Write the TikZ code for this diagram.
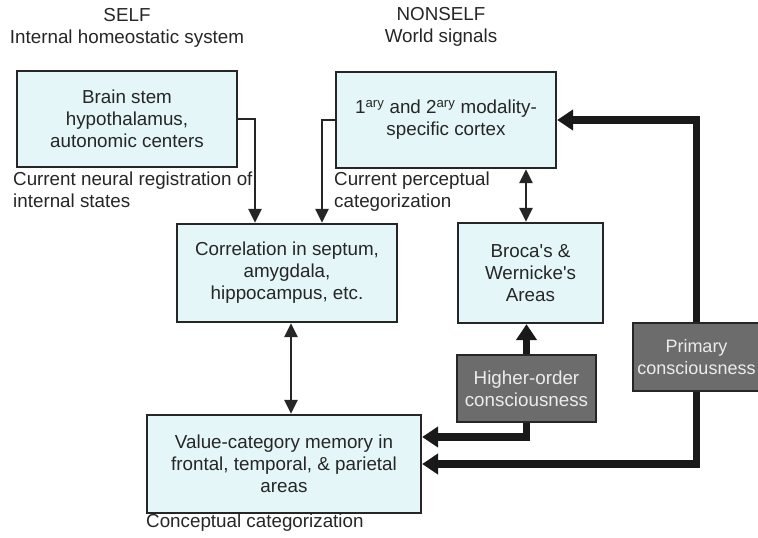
\documentclass[tikz,border=0pt]{standalone}
\usepackage{fontspec}
\setmainfont{Liberation Sans}
\usetikzlibrary{arrows.meta}
\definecolor{boxfill}{RGB}{228,246,248}
\definecolor{darkfill}{RGB}{108,108,108}
\definecolor{ink}{RGB}{38,38,38}
\definecolor{paleink}{RGB}{236,236,236}
\newcommand{\apos}{\textquotesingle}
\begin{document}
\begin{tikzpicture}[x=1pt,y=-1pt,
  every node/.style={font=\fontsize{18.8}{22}\selectfont, text=ink},
  lightbox/.style={draw=ink, line width=2.2pt, fill=boxfill, align=center, inner sep=0pt},
  darkbox/.style={draw=ink, line width=2.2pt, fill=darkfill, align=center, inner sep=0pt, text=paleink},
  caption/.style={align=left, inner sep=0pt, anchor=north west},
  heading/.style={align=center, inner sep=0pt, anchor=north},
  thinarrow/.style={draw=ink, line width=2.6pt, -{Triangle[length=14pt,width=13pt]}},
  thinboth/.style={draw=ink, line width=2.6pt, {Triangle[length=14pt,width=13pt]}-{Triangle[length=14pt,width=13pt]}},
  thickarrow/.style={draw=black!90, line width=7.5pt, -{Triangle[length=16pt,width=20pt]}}]
\useasboundingbox (0,0) rectangle (758,538);
\fill[white] (0,0) rectangle (758,538);

% column headings
\node[heading] (selfhead) at (127,8) {SELF\\Internal homeostatic system};
\node[heading] (nonselfhead) at (441,7) {NONSELF\\World signals};

% boxes
\node[lightbox, minimum width=220pt, minimum height=96pt] (brain) at (127,119)
  {Brain stem\\hypothalamus,\\autonomic centers};
\node[lightbox, minimum width=220pt, minimum height=96pt] (cortex) at (446,120)
  {1\textsuperscript{ary} and 2\textsuperscript{ary} modality-\\specific cortex};
\node[lightbox, minimum width=220pt, minimum height=98pt] (corr) at (287,273)
  {Correlation in septum,\\amygdala,\\hippocampus, etc.};
\node[lightbox, minimum width=145pt, minimum height=100pt] (broca) at (530.5,273)
  {Broca\apos s \&\\Wernicke\apos s\\Areas};
\node[darkbox, minimum width=139pt, minimum height=67pt] (higher) at (526.5,388.5)
  {Higher-order\\consciousness};
\node[darkbox, minimum width=127pt, minimum height=68pt,
      font=\fontsize{18}{22}\selectfont] (primary) at (696.5,357)
  {Primary\\consciousness};
\node[lightbox, minimum width=274pt, minimum height=98pt] (value) at (284,464)
  {Value-category memory in\\frontal, temporal, \& parietal\\areas};

% captions under the boxes
\node[caption] (neuralcap) at (13,172) {Current neural registration of\\internal states};
\node[caption] (perccap) at (334,172) {Current perceptual\\categorization};
\node[caption] (conccap) at (146,514) {Conceptual categorization};

% columns used by the vertical connectors
\coordinate (colL) at (255,0);
\coordinate (colR) at (322,0);
\coordinate (colA) at (291,0);
\coordinate (colB) at (526,0);

% thin connectors
\draw[thinarrow] (brain.east) -| (corr.north -| colL);
\draw[thinarrow] (cortex.west) -| (corr.north -| colR);
\draw[thinboth] (cortex.south -| colB) -- (broca.north -| colB);
\draw[thinboth] (corr.south -| colA) -- (value.north -| colA);

% thick connectors
\draw[thickarrow] (higher.north) -- (broca.south -| higher.north);
\draw[thickarrow] (higher.south) |- ([yshift=27pt]value.east);
\draw[thickarrow] (primary.north) |- (cortex.east);
\draw[thickarrow] (primary.south) |- (value.east);
\end{tikzpicture}
\end{document}
